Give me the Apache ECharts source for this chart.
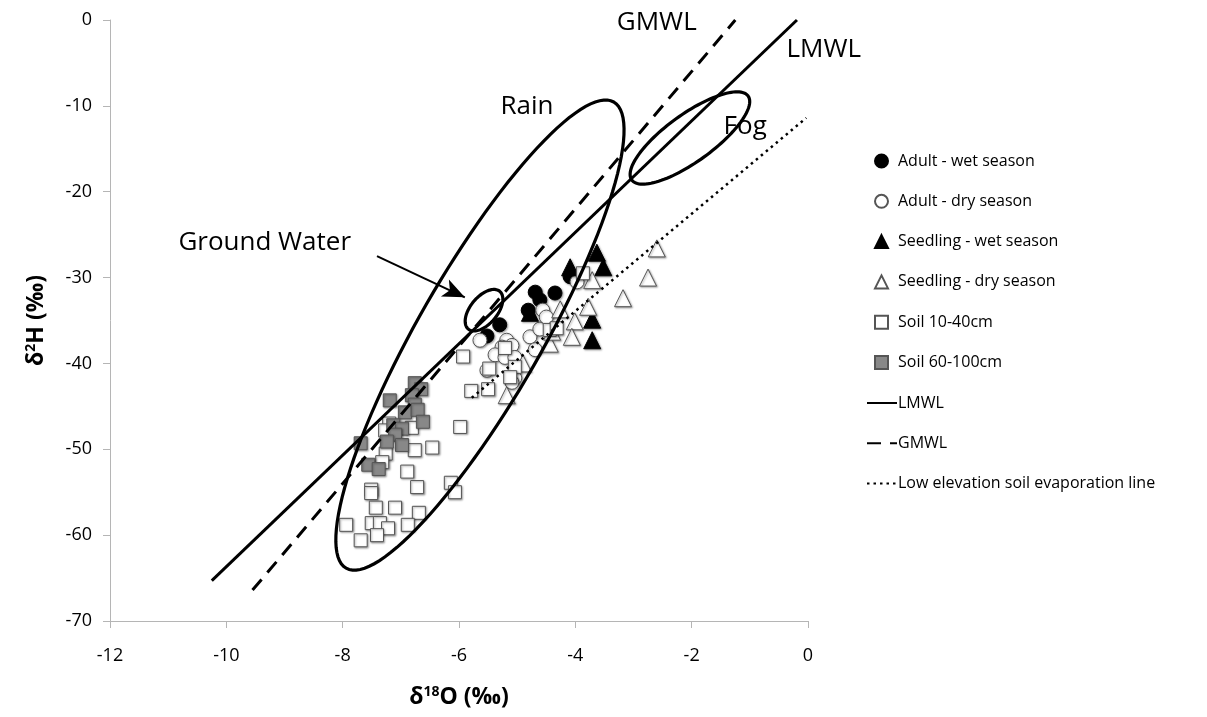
<!DOCTYPE html>
<html>
<head>
<meta charset="utf-8">
<script src="https://cdn.jsdelivr.net/npm/echarts@6/dist/echarts.min.js"></script>
<style>html,body{margin:0;padding:0;background:#fff;}#c{width:1207px;height:717px;}</style>
</head>
<body>
<div id="c"></div>
<script>
// ---- data (δ18O, δ2H) ----
const adultWet = [[-5.52,-36.8],[-5.30,-35.5],[-4.81,-33.8],[-4.69,-31.7],[-4.61,-32.6],[-4.35,-31.8],[-4.09,-29.9]];
const adultDry = [[-5.64,-37.3],[-5.18,-37.3],[-5.26,-38.1],[-5.09,-37.9],[-5.38,-39.0],[-5.21,-39.3],[-5.04,-39.3],
  [-5.52,-40.8],[-5.04,-41.7],[-5.09,-42.2],[-4.78,-36.9],[-4.61,-36.0],[-4.56,-33.8],[-4.69,-38.4],[-3.97,-30.5],[-4.50,-34.6]];
const seedlingWet = [[-3.63,-27.1],[-3.52,-28.8],[-4.09,-28.8],[-3.71,-34.9],[-3.71,-37.3],[-4.78,-34.1]];
const seedlingDry = [[-2.60,-26.6],[-2.75,-30.0],[-3.18,-32.4],[-3.71,-30.3],[-3.78,-33.4],[-4.01,-35.1],[-4.06,-36.9],
  [-4.26,-33.7],[-4.44,-37.7],[-4.40,-36.3],[-4.90,-40.0],[-5.18,-43.7]];
const soilShallow = [[-5.93,-39.2],[-5.48,-40.6],[-5.79,-43.2],[-5.50,-43.0],[-5.98,-47.4],[-6.81,-47.5],[-7.20,-47.0],
  [-7.27,-47.8],[-6.76,-50.1],[-6.46,-49.8],[-7.26,-50.5],[-7.32,-51.5],[-6.89,-52.6],[-6.72,-54.4],[-7.51,-54.7],
  [-7.51,-55.1],[-6.14,-53.9],[-6.07,-55.0],[-7.43,-56.8],[-7.10,-56.8],[-6.69,-57.4],[-7.94,-58.8],[-7.50,-58.6],
  [-7.36,-58.6],[-7.22,-59.2],[-6.88,-58.8],[-7.41,-60.0],[-7.69,-60.6],[-5.21,-38.2],[-5.04,-40.4],[-5.12,-41.6],
  [-4.44,-36.1],[-4.32,-35.9],[-3.87,-29.5]];
const soilDeep = [[-6.76,-42.3],[-6.65,-43.0],[-7.19,-44.3],[-6.81,-43.7],[-6.76,-44.8],[-6.93,-45.7],[-6.71,-45.4],
  [-6.62,-46.8],[-7.13,-47.2],[-6.98,-47.6],[-7.10,-48.3],[-7.24,-49.1],[-6.98,-49.5],[-7.69,-49.3],[-7.56,-51.8],[-7.38,-52.3]];
const lmwl = [[-10.25,-65.3],[-0.19,0]];
const gmwl = [[-9.55,-66.4],[-1.25,0]];
const evapLine = [[-5.78,-44.0],[-0.03,-11.4]];
// ellipses: centre x, centre y, major-axis tip x, tip y, minor/major ratio
const ellipses = [[-5.64,-36.7,-3.34,-9.55,0.23],[-5.57,-33.8,-5.30,-31.6,0.55],[-2.03,-13.74,-1.03,-8.85,0.33]];
const annotations = [['GMWL',-2.60,-0.3],['LMWL',0.27,-3.5],['Rain',-4.83,-10.1],['Fog',-1.08,-12.4],['Ground Water',-9.34,-25.9]];
const arrow = [[-7.41,-27.5],[-5.90,-32.3]];
const xTicks = {min:-12, max:0, interval:2};
const yTicks = {min:-70, max:0, interval:10};
const pointNames = ['Adult - wet season','Adult - dry season','Seedling - wet season','Seedling - dry season','Soil 10-40cm','Soil 60-100cm'];
const lineNames = ['LMWL','GMWL','Low elevation soil evaporation line'];

const chart = echarts.init(document.getElementById('c'), null, {renderer:'canvas'});
const shadow = {shadowBlur:2, shadowColor:'rgba(0,0,0,0.35)', shadowOffsetX:1, shadowOffsetY:1};
const F = 'Open Sans';
function scat(name, data, symbol, size, fill, stroke){
  return {name, type:'scatter', data, symbol, symbolSize:size, z:2, emphasis:{disabled:true},
    itemStyle:Object.assign({color:fill, borderColor:stroke, borderWidth:1, opacity:1}, shadow)};
}
const supRich = {a:{fontFamily:F, fontSize:23, fontWeight:'bold', color:'#000'}, s:{fontFamily:F, fontSize:14, fontWeight:'bold', color:'#000', verticalAlign:'top', padding:[0,0,10,0]}};
const option = {
  animation:false,
  backgroundColor:'#fff',
  grid:{left:110, right:399, top:20, bottom:96},
  xAxis:{type:'value', min:xTicks.min, max:xTicks.max, interval:xTicks.interval,
    axisLine:{onZero:false, lineStyle:{color:'#b5b5b5', width:1}},
    axisTick:{show:true, length:7, lineStyle:{color:'#b5b5b5'}},
    splitLine:{show:false},
    axisLabel:{color:'#000', fontFamily:F, fontSize:18, margin:26},
    name:'{a|δ}{s|18}{a|O (‰)}', nameLocation:'middle', nameGap:64,
    nameTextStyle:{rich:supRich}
  },
  yAxis:{type:'value', min:yTicks.min, max:yTicks.max, interval:yTicks.interval,
    axisLine:{show:true, onZero:false, lineStyle:{color:'#b5b5b5', width:1}},
    axisTick:{show:true, length:7, lineStyle:{color:'#b5b5b5'}},
    splitLine:{show:false},
    axisLabel:{color:'#000', fontFamily:F, fontSize:18, margin:18},
    name:'{a|δ}{s|2}{a|H (‰)}', nameLocation:'middle', nameGap:62, nameRotate:90,
    nameTextStyle:{rich:supRich}
  },
  legend:[
    {orient:'vertical', left:869, top:148, itemWidth:13, itemHeight:13, itemGap:24.3,
     textStyle:{fontFamily:F, fontSize:16, color:'#000', padding:[0,0,0,5]},
     data:pointNames},
    {orient:'vertical', left:861, top:390, itemWidth:30, itemHeight:13, itemGap:24.3,
     itemStyle:{color:'rgba(0,0,0,0)', borderColor:'rgba(0,0,0,0)', borderWidth:0, shadowBlur:0},
     textStyle:{fontFamily:F, fontSize:16, color:'#000', padding:[0,0,0,-4]},
     data:lineNames}
  ],
  series:[
    scat(pointNames[0], adultWet, 'circle', 14, '#000', '#000'),
    scat(pointNames[1], adultDry, 'circle', 14, '#fff', '#555'),
    scat(pointNames[2], seedlingWet, 'triangle', 17, '#000', '#000'),
    scat(pointNames[3], seedlingDry, 'triangle', 17, '#fff', '#555'),
    scat(pointNames[4], soilShallow, 'rect', 13, '#fff', '#555'),
    scat(pointNames[5], soilDeep, 'rect', 13, '#888', '#555'),
    {name:lineNames[0], type:'line', data:lmwl, symbol:'none', z:5, emphasis:{disabled:true}, lineStyle:{color:'#000', width:3}, itemStyle:{color:'#000'}},
    {name:lineNames[1], type:'line', data:gmwl, symbol:'none', z:5, emphasis:{disabled:true}, lineStyle:{color:'#000', width:3, type:[14,9]}, itemStyle:{color:'#000'}},
    {name:lineNames[2], type:'line', data:evapLine, symbol:'none', z:5, emphasis:{disabled:true}, lineStyle:{color:'#000', width:2.5, type:[2.5,4]}, itemStyle:{color:'#000'}},
    {type:'custom', data:ellipses, z:6, clip:false, silent:true,
      encode:{x:[0,2], y:[1,3]},
      renderItem:function(params, api){
        const c = api.coord([api.value(0), api.value(1)]);
        const t = api.coord([api.value(2), api.value(3)]);
        const dx = t[0]-c[0], dy = t[1]-c[1];
        const a = Math.sqrt(dx*dx+dy*dy), b = a*api.value(4);
        const ux = dx/a, uy = dy/a, vx = -uy, vy = ux;
        const pts = [];
        for(let i=0;i<120;i++){
          const th = i/120*Math.PI*2;
          const p = a*Math.cos(th), q = b*Math.sin(th);
          pts.push([c[0]+p*ux+q*vx, c[1]+p*uy+q*vy]);
        }
        return {type:'polygon', shape:{points:pts}, style:{fill:'none', stroke:'#000', lineWidth:3.2}};
      }
    },
    {type:'scatter', data:annotations.map(d=>({name:d[0], value:[d[1],d[2]]})), symbolSize:0, clip:false, silent:true, z:7,
      itemStyle:{opacity:1},
      label:{show:true, formatter:'{b}', position:'inside', color:'#000', opacity:1, fontFamily:F, fontSize:26}},
    {type:'line', data:[], z:7, silent:true,
      markLine:{silent:true, symbol:['none','arrow'], symbolSize:[14,22], animation:false,
        lineStyle:{color:'#000', width:2, type:'solid'}, label:{show:false},
        data:[[{coord:arrow[0]},{coord:arrow[1]}]]}}
  ]
};
chart.setOption(option);
</script>
</body>
</html>
